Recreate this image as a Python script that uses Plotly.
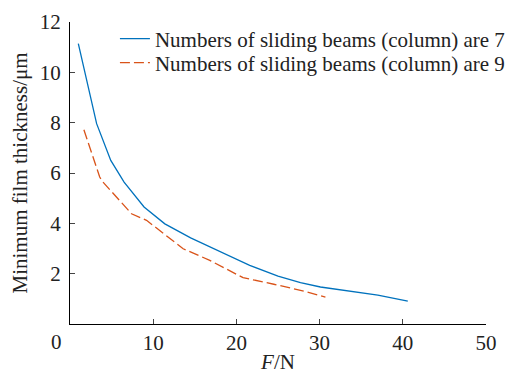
import plotly.graph_objects as go

f7 = [1.0, 3.2, 4.9, 6.5, 8.9, 11.4, 14.5, 17.6, 21.6, 25.0, 27.7, 30.1, 33.5, 37.0, 40.6]
h7 = [11.14, 7.96, 6.5, 5.64, 4.65, 3.98, 3.42, 2.93, 2.33, 1.9, 1.64, 1.47, 1.32, 1.15, 0.91]
f9 = [1.67, 3.57, 3.96, 7.4, 9.2, 13.6, 16.8, 20.8, 24.5, 27.7, 30.7]
h9 = [7.72, 5.84, 5.64, 4.38, 4.12, 2.99, 2.53, 1.84, 1.58, 1.34, 1.07]
names = ["Numbers of sliding beams (column) are 7", "Numbers of sliding beams (column) are 9"]
xticks = [10, 20, 30, 40, 50]
yticks = [2, 4, 6, 8, 10, 12]

serif = "Liberation Serif, Times New Roman, serif"
FS = 21
fig = go.Figure()
fig.add_trace(go.Scatter(x=f7, y=h7, mode="lines", name=names[0], legend="legend",
                         line=dict(color="#0072BD", width=1.3)))
fig.add_trace(go.Scatter(x=f9, y=h9, mode="lines", name=names[1], legend="legend2",
                         line=dict(color="#D95319", width=1.3, dash="10px,4px")))

leg = dict(xanchor="left", yanchor="top", bgcolor="rgba(0,0,0,0)",
           font=dict(size=FS, family=serif, color="#222"), itemwidth=30,
           borderwidth=0)
fig.update_layout(
    width=517, height=374,
    margin=dict(l=70, r=31, t=22, b=50, autoexpand=False),
    paper_bgcolor="white", plot_bgcolor="white",
    font=dict(family=serif, size=FS, color="#222"),
    showlegend=True,
    legend=dict(x=0.108, y=1.012, **leg),
    legend2=dict(x=0.108, y=0.932, **leg),
    xaxis=dict(range=[0, 50], tickvals=xticks, ticks="inside", ticklen=5,
               showline=True, linecolor="black", linewidth=1.3, showgrid=False,
               zeroline=False, tickfont=dict(size=FS, family=serif),
               ticklabelstandoff=0, automargin=False,
               title=dict(text="<i>F</i>/N", font=dict(size=FS, family=serif), standoff=0)),
    yaxis=dict(range=[0, 12], tickvals=yticks, ticks="inside", ticklen=5,
               showline=True, linecolor="black", linewidth=1.3, showgrid=False,
               zeroline=False, tickfont=dict(size=FS, family=serif),
               ticklabelstandoff=4, automargin=False,
               title=dict(text="Minimum film thickness/μm", font=dict(size=FS, family=serif), standoff=6)),
    annotations=[dict(text="0", x=0, y=0, xref="x", yref="y", xanchor="center", yanchor="top",
                      xshift=-14, yshift=-4, showarrow=False, font=dict(size=FS, family=serif))],
)
fig.write_html("out.html")
